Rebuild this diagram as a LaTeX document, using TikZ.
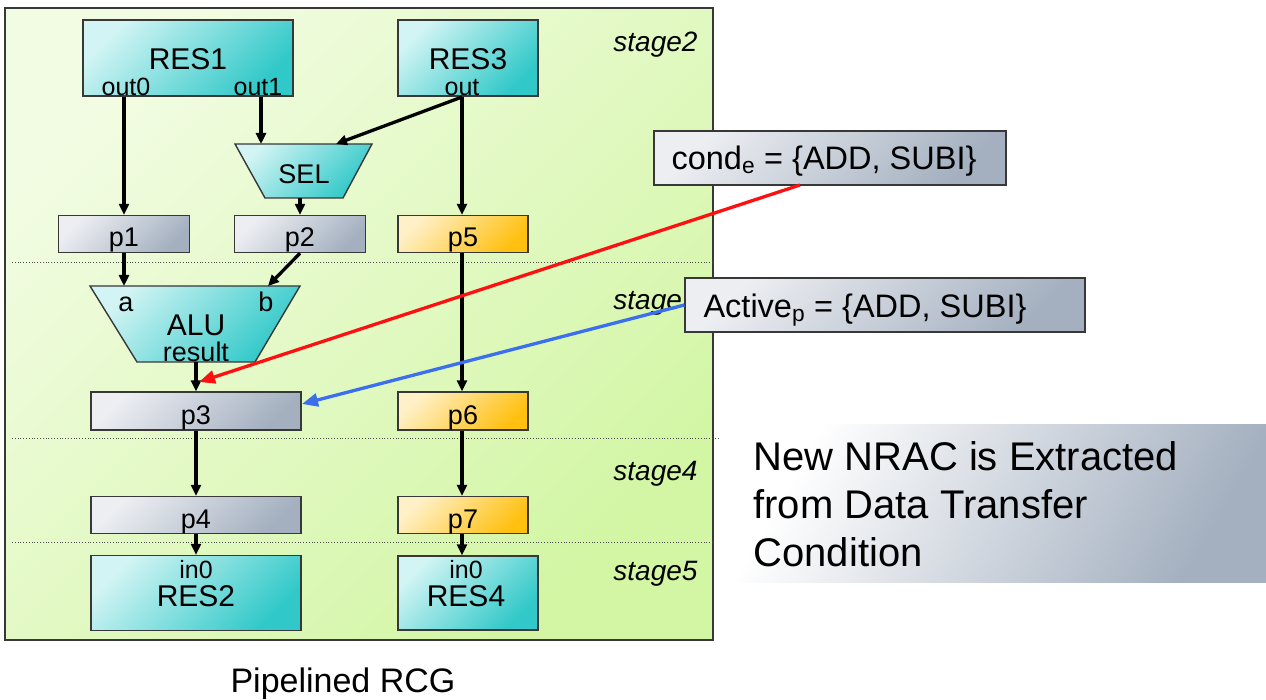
\documentclass[tikz,border=0pt]{standalone}
\usepackage{fontspec}
\setmainfont{Liberation Sans}
\usetikzlibrary{arrows.meta}
\definecolor{resA}{HTML}{D2F4F4}
\definecolor{resB}{HTML}{30C8C8}
\definecolor{pA}{HTML}{ECEEF2}
\definecolor{pB}{HTML}{A4B0C0}
\definecolor{oA}{HTML}{FFF0C8}
\definecolor{oB}{HTML}{FFC010}
\definecolor{gA}{HTML}{F2FCE2}
\definecolor{gB}{HTML}{D2F6A4}
\definecolor{edge}{HTML}{383838}
\definecolor{redl}{HTML}{FF1010}
\definecolor{bluel}{HTML}{3C6EF0}
\newcommand{\fs}[1]{\fontsize{#1}{#1}\selectfont}
\begin{document}
\begin{tikzpicture}[x=1pt,y=-1pt,
  box/.style={draw=edge, line width=1.4pt, inner sep=0pt, shading angle=45},
  res/.style={box, top color=resA, bottom color=resB, shading angle=45},
  gbox/.style={box, top color=pA, bottom color=pB, shading angle=45},
  obox/.style={box, top color=oA, bottom color=oB, shading angle=45},
  big/.style={font=\fs{30}},
  mid/.style={font=\fs{27}},
  port/.style={font=\fs{25}},
  stg/.style={font=\fs{28}\itshape, anchor=base east},
  arr/.style={line width=3.3pt, -{Triangle[length=11pt,width=10pt]}},
  sep/.style={dotted, line width=0.8pt, draw=black!70}
]
\useasboundingbox (0,0) rectangle (1266,700);
% panel
\node[draw=edge, line width=1.2pt, top color=gA, bottom color=gB, shading angle=45,
      minimum width=708pt, minimum height=632pt, inner sep=0pt] (panel) at (359,324) {};
\draw[sep] (12,262) -- (713,262);
\draw[sep] (12,438) -- (720,438);
\draw[sep] (12,542) -- (713,542);
% stage labels
\node[stg] (s2) at (701,52) {stage2};
\node[stg] (s3) at (701,310) {stage3};
\node[stg] (s4) at (701,480) {stage4};
\node[stg] (s5) at (701,580) {stage5};
% RES1 / RES3
\node[res, minimum width=210pt, minimum height=76pt] (res1) at (188,58) {};
\node[big, anchor=base] (res1t) at (188,70) {RES1};
\node[port, anchor=base] (out0) at (126,96) {out0};
\node[port, anchor=base] (out1) at (258,96) {out1};
\node[res, minimum width=140pt, minimum height=76pt] (res3) at (468,58) {};
\node[big, anchor=base] (res3t) at (468,70) {RES3};
\node[port, anchor=base] (out) at (462,96) {out};
% SEL
\path[box, top color=resA, bottom color=resB, shading angle=45]
  (235,144) -- (372,144) -- (343,198) -- (265,198) -- cycle;
\node[mid, anchor=base] (sel) at (304,184) {SEL};
\coordinate (selA) at (261,144);
\coordinate (selB) at (336,144);
\coordinate (selO) at (300,198);
% p boxes
\node[gbox, minimum width=131pt, minimum height=37pt] (p1) at (124,234) {};
\node[mid, anchor=base] at (124,247) {p1};
\node[gbox, minimum width=131pt, minimum height=37pt] (p2) at (300,234) {};
\node[mid, anchor=base] at (300,247) {p2};
\node[obox, minimum width=130pt, minimum height=37pt] (p5) at (463,234) {};
\node[mid, anchor=base] at (463,247) {p5};
% ALU
\path[box, top color=resA, bottom color=resB, shading angle=45]
  (90,286) -- (300,286) -- (255,362) -- (137,362) -- cycle;
\node[font=\fs{27}, anchor=base] (a) at (126,312) {a};
\node[font=\fs{27}, anchor=base] (b) at (266,312) {b};
\node[big, anchor=base] (alu) at (196,336) {ALU};
\node[font=\fs{27}, anchor=base] (result) at (196,362) {result};
\coordinate (aluA) at (124,286);
\coordinate (aluB) at (268,286);
\coordinate (aluO) at (196,362);
% p3 p6
\node[gbox, minimum width=210pt, minimum height=38pt] (p3) at (196,411) {};
\node[mid, anchor=base] at (196,424) {p3};
\node[obox, minimum width=130pt, minimum height=38pt] (p6) at (463,411) {};
\node[mid, anchor=base] at (463,424) {p6};
% p4 p7
\node[gbox, minimum width=210pt, minimum height=37pt] (p4) at (196,515) {};
\node[mid, anchor=base] at (196,528) {p4};
\node[obox, minimum width=130pt, minimum height=37pt] (p7) at (463,515) {};
\node[mid, anchor=base] at (463,528) {p7};
% RES2 RES4
\node[res, minimum width=210pt, minimum height=75pt] (res2) at (196,593) {};
\node[port, anchor=base] (in0a) at (196,578) {in0};
\node[big, anchor=base] (res2t) at (196,606) {RES2};
\node[res, minimum width=140pt, minimum height=74pt] (res4) at (468,593) {};
\node[port, anchor=base] (in0b) at (466,578) {in0};
\node[big, anchor=base] (res4t) at (466,606) {RES4};
% arrows
\coordinate (o0) at (124,97);
\coordinate (o1) at (261,97);
\coordinate (o3) at (462,97);
\draw[arr] (o0) -- (p1.north -| o0);
\draw[arr] (o1) -- (selA);
\draw[arr] (o3) -- (selB);
\draw[arr] (o3) -- (p5.north -| o3);
\draw[arr] (selO) -- (p2.north);
\draw[arr] (p1.south) -- (aluA);
\draw[arr] (p2.south) -- (aluB);
\draw[arr] (p5.south -| o3) -- (p6.north -| o3);
\draw[arr] (aluO) -- (p3.north);
\draw[arr] (p3.south) -- (p4.north);
\draw[arr] (p4.south) -- (res2.north);
\draw[arr] (p6.south -| o3) -- (p7.north -| o3);
\draw[arr] (p7.south -| o3) -- (res4.north -| o3);
% condition boxes
\node[gbox, minimum width=352pt, minimum height=54pt] (cond) at (830,158) {};
\node[font=\fs{32.5}, anchor=base west] (condt) at (668,170) {cond\textsubscript{e} = \{ADD, SUBI\}};
\node[gbox, minimum width=400pt, minimum height=54pt] (act) at (885,305) {};
\node[font=\fs{32.5}, anchor=base west] (actt) at (700,318) {Active\textsubscript{p} = \{ADD, SUBI\}};
\coordinate (redS) at (800,185);
\coordinate (redE) at (199,382);
\coordinate (blueE) at (302,404);
\draw[redl, line width=3.3pt, -{Triangle[length=16pt,width=13pt]}] (redS) -- (redE);
\draw[bluel, line width=3.3pt, -{Triangle[length=16pt,width=13pt]}] (act.west) -- (blueE);
% note box
\node[top color=white, bottom color=pB, shading angle=60, minimum width=529pt, minimum height=158pt, inner sep=0pt] (note) at (1001.5,503) {};
\node[font=\fs{40}, anchor=base west] (n1) at (750,470) {New NRAC is Extracted};
\node[font=\fs{40}, anchor=base west] (n2) at (750,518) {from Data Transfer};
\node[font=\fs{40}, anchor=base west] (n3) at (750,566) {Condition};
% caption
\node[font=\fs{34}, anchor=base] (cap) at (343,692) {Pipelined RCG};
\end{tikzpicture}
\end{document}
